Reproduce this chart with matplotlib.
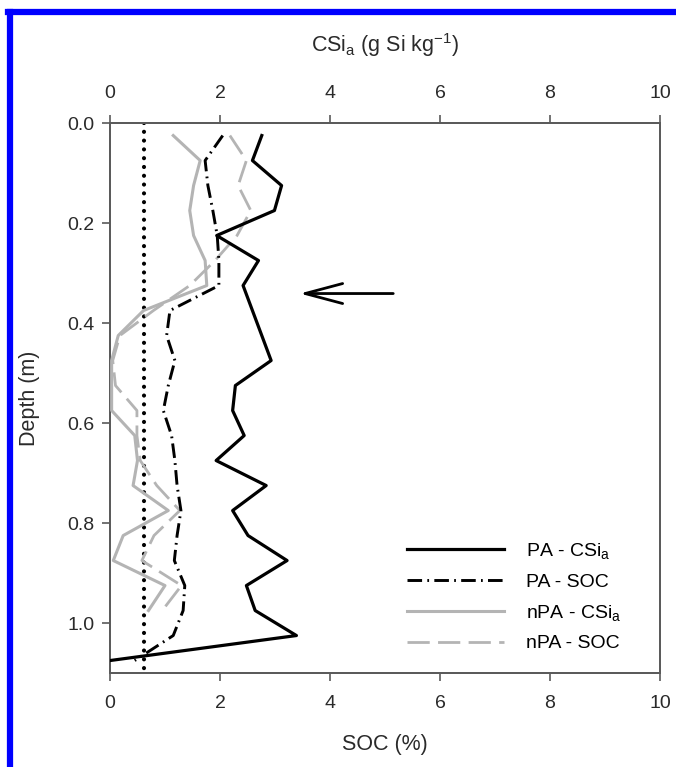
import numpy as np
import matplotlib.pyplot as plt
from matplotlib.lines import Line2D

plt.rcParams['font.family'] = ['Liberation Sans', 'DejaVu Sans']
plt.rcParams['mathtext.fontset'] = 'custom'
plt.rcParams['mathtext.rm'] = 'Liberation Sans'
plt.rcParams['mathtext.it'] = 'Liberation Sans'

# depths (m) of sample midpoints
depth_pa = [0.025, 0.075, 0.125, 0.175, 0.225, 0.275, 0.325, 0.375, 0.425, 0.475, 0.525,
            0.575, 0.625, 0.675, 0.725, 0.775, 0.825, 0.875, 0.925, 0.975, 1.025, 1.075]
depth_npa = depth_pa[:20]

pa_csi = [2.76, 2.59, 3.12, 2.99, 1.94, 2.70, 2.42, 2.59, 2.76, 2.93, 2.28,
          2.23, 2.44, 1.93, 2.84, 2.23, 2.51, 3.22, 2.48, 2.64, 3.39, 0.0]
pa_soc = [2.05, 1.73, 1.78, 1.87, 1.95, 1.98, 1.98, 1.09, 1.03, 1.18, 1.06,
          0.97, 1.12, 1.18, 1.22, 1.29, 1.22, 1.17, 1.36, 1.33, 1.15, 0.45]
npa_csi = [1.15, 1.64, 1.52, 1.45, 1.52, 1.73, 1.76, 0.61, 0.15, 0.03,
           0.03, 0.03, 0.45, 0.50, 0.42, 1.06, 0.24, 0.06, 1.00, 0.70]
npa_soc = [2.18, 2.48, 2.33, 2.56, 2.31, 1.91, 1.45, 0.79, 0.18, 0.05,
           0.10, 0.49, 0.49, 0.55, 0.85, 1.27, 0.80, 0.58, 1.30, 0.95]

soc_threshold = 0.61   # dotted reference line (SOC %)
arrow_depth = 0.341

gray = '#b4b4b4'
spine_col = '#5a5a5a'
txt_col = '#2a2a2a'

fig = plt.figure(figsize=(6.76, 7.67), dpi=100)
ax = fig.add_axes([0.1627, 0.1225, 0.8136, 0.7171])
ax2 = ax.twiny()

ax.plot([soc_threshold, soc_threshold], [0, 1.1], color='black', lw=3.0,
        linestyle=(0, (0.01, 2.1)), dash_capstyle='round', zorder=2)

h1, = ax2.plot(pa_csi, depth_pa, color='black', lw=2.3, label='PA - CSi$_\\mathrm{a}$', zorder=4)
h2, = ax.plot(pa_soc, depth_pa, color='black', lw=2.1,
              linestyle=(0, (5, 1.8, 0.6, 1.8)), label='PA - SOC', zorder=4)
h3, = ax2.plot(npa_csi, depth_npa, color=gray, lw=2.2, label='nPA - CSi$_\\mathrm{a}$', zorder=3)
h4, = ax.plot(npa_soc, depth_npa, color=gray, lw=2.0,
              linestyle=(0, (8, 3)), label='nPA - SOC', zorder=3)

ax.annotate('', xy=(3.45, arrow_depth), xytext=(5.15, arrow_depth),
            arrowprops=dict(arrowstyle='->, head_length=2.7, head_width=0.72',
                            lw=2.0, color='black', mutation_scale=10,
                            shrinkA=0, shrinkB=0))

for a in (ax, ax2):
    a.set_xlim(0, 10)
    a.set_xticks([0, 2, 4, 6, 8, 10])
    for s in a.spines.values():
        s.set_color(spine_col)
        s.set_linewidth(1.3)
    a.tick_params(colors=spine_col, labelcolor=txt_col, labelsize=14,
                  direction='out', length=6, width=1.2)
ax.set_ylim(1.1, 0)
ax.set_yticks([0.0, 0.2, 0.4, 0.6, 0.8, 1.0])
ax.set_yticklabels(['0.0', '0.2', '0.4', '0.6', '0.8', '1.0'])
ax.tick_params(axis='x', pad=10)
ax2.tick_params(axis='x', pad=9)
ax.tick_params(axis='y', pad=5)

ax.set_xlabel('SOC (%)', fontsize=15.5, color=txt_col, labelpad=16)
ax.set_ylabel('Depth (m)', fontsize=15.5, color=txt_col, labelpad=20)
ax2.set_xlabel('CSi$_\\mathrm{a}$ (g Si kg$^{\\mathrm{-1}}$)', fontsize=15.5,
               color=txt_col, labelpad=24)

ax.legend(handles=[h1, h2, h3, h4], loc='upper left', bbox_to_anchor=(0.54, 0.24),
          frameon=False, fontsize=14, handlelength=5.0, handletextpad=1.1,
          labelspacing=0.62, borderpad=0, borderaxespad=0)

# blue frame on top and left edges
fig.add_artist(Line2D([0.0155, 0.0155], [0, 0.985], transform=fig.transFigure,
                      color='#0000ff', lw=4.5))
fig.add_artist(Line2D([0.012, 1.0], [0.9845, 0.9845], transform=fig.transFigure,
                      color='#0000ff', lw=4.5))

fig.savefig('out.png', dpi=100)
